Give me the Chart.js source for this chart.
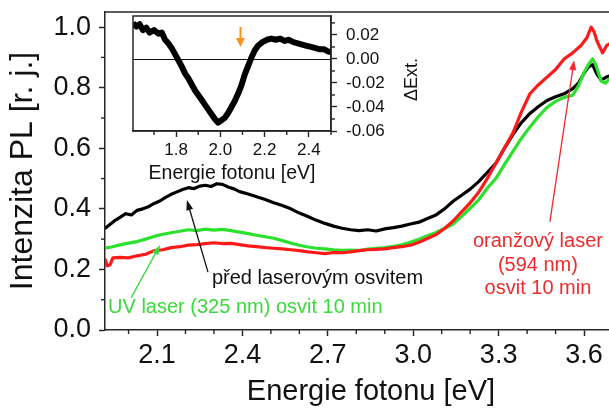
<!DOCTYPE html>
<html>
<head>
<meta charset="utf-8">
<script src="https://cdn.jsdelivr.net/npm/chart.js@4.4.1/dist/chart.umd.min.js"></script>
<style>
  html, body { margin: 0; padding: 0; background: #fff; overflow: hidden; }
  #wrap { position: relative; width: 609px; height: 417px; overflow: hidden; background: #fff; }
  #main { position: absolute; left: 0; top: 0; }
  #inset { position: absolute; left: 125px; top: 0; }
</style>
</head>
<body>
<div id="wrap">
  <canvas id="main" width="640" height="417"></canvas>
  <canvas id="inset" width="300" height="190"></canvas>
</div>
<script>
// ---- PL spectra: photon energy [eV] and PL intensity [r. j.] ----
const eBefore = [1.917,1.93,1.95,1.97,1.99,2.01,2.03,2.05,2.07,2.09,
                 2.11,2.13,2.15,2.17,2.19,2.21,2.23,2.25,2.27,2.29,
                 2.31,2.33,2.35,2.37,2.39,2.42,2.45,2.48,2.51,2.54,
                 2.57,2.60,2.63,2.66,2.69,2.72,2.75,2.78,2.81,2.84,
                 2.87,2.90,2.93,2.96,2.99,3.02,3.05,3.08,3.11,3.14,
                 3.17,3.20,3.23,3.26,3.29,3.32,3.35,3.38,3.41,3.44,
                 3.47,3.50,3.53,3.56,3.58,3.60,3.615,3.63,3.645,3.66,
                 3.68,3.70];
const plBefore = [0.335,0.345,0.36,0.372,0.384,0.38,0.395,0.40,0.407,0.418,
                  0.426,0.438,0.448,0.456,0.464,0.47,0.467,0.475,0.478,0.474,
                  0.483,0.481,0.472,0.466,0.457,0.449,0.44,0.431,0.42,0.411,
                  0.40,0.386,0.375,0.362,0.352,0.343,0.336,0.331,0.328,0.331,
                  0.327,0.334,0.338,0.343,0.35,0.356,0.368,0.38,0.40,0.425,
                  0.445,0.465,0.49,0.52,0.55,0.60,0.645,0.685,0.715,0.738,
                  0.758,0.77,0.78,0.797,0.815,0.848,0.868,0.876,0.845,0.825,
                  0.836,0.842];

const eUV = [1.917,1.94,1.97,2.00,2.03,2.06,2.09,2.12,2.15,2.18,
             2.21,2.24,2.27,2.30,2.33,2.36,2.39,2.42,2.45,2.48,
             2.51,2.54,2.57,2.60,2.63,2.66,2.69,2.72,2.75,2.78,
             2.81,2.84,2.87,2.90,2.93,2.96,2.99,3.02,3.05,3.08,
             3.11,3.14,3.17,3.20,3.23,3.26,3.29,3.32,3.35,3.38,
             3.41,3.44,3.47,3.50,3.53,3.56,3.58,3.60,3.615,3.63,
             3.64,3.65,3.66,3.675,3.69,3.70];
const plUV = [0.27,0.274,0.281,0.287,0.292,0.30,0.309,0.316,0.321,0.326,
              0.331,0.328,0.333,0.33,0.332,0.328,0.323,0.318,0.313,0.308,
              0.303,0.295,0.287,0.28,0.274,0.27,0.268,0.265,0.263,0.264,
              0.262,0.267,0.27,0.272,0.276,0.281,0.29,0.30,0.311,0.322,
              0.335,0.35,0.375,0.402,0.43,0.468,0.50,0.545,0.59,0.633,
              0.67,0.705,0.735,0.755,0.768,0.775,0.805,0.85,0.876,0.895,
              0.878,0.85,0.822,0.815,0.83,0.835];

const eOrange = [1.917,1.925,1.935,1.945,1.97,2.00,2.03,2.06,2.09,2.12,
                 2.15,2.18,2.21,2.24,2.27,2.30,2.33,2.36,2.39,2.42,
                 2.45,2.48,2.51,2.54,2.57,2.60,2.63,2.66,2.69,2.72,
                 2.75,2.78,2.81,2.84,2.87,2.90,2.93,2.96,2.99,3.02,
                 3.05,3.08,3.11,3.14,3.17,3.20,3.23,3.26,3.29,3.32,
                 3.35,3.38,3.41,3.44,3.47,3.50,3.53,3.56,3.59,3.61,
                 3.625,3.635,3.645,3.655,3.665,3.68,3.70];
const plOrange = [0.235,0.212,0.215,0.238,0.24,0.238,0.245,0.25,0.262,0.265,
                  0.272,0.275,0.28,0.282,0.285,0.288,0.285,0.286,0.282,0.278,
                  0.275,0.272,0.27,0.268,0.265,0.262,0.258,0.255,0.252,0.256,
                  0.255,0.258,0.262,0.265,0.266,0.268,0.272,0.275,0.28,0.29,
                  0.302,0.315,0.335,0.36,0.39,0.42,0.455,0.50,0.55,0.60,
                  0.65,0.72,0.78,0.81,0.835,0.86,0.895,0.915,0.94,0.965,
                  1.0,0.985,0.955,0.935,0.915,0.94,0.95];

// ---- inset: extinction difference vs photon energy ----
const eExt = [1.605,1.62,1.635,1.65,1.665,1.68,1.70,1.72,1.735,1.75,
              1.765,1.78,1.795,1.81,1.825,1.84,1.855,1.87,1.885,1.90,
              1.915,1.93,1.945,1.96,1.975,1.99,2.005,2.02,2.035,2.05,
              2.065,2.08,2.095,2.11,2.125,2.14,2.155,2.17,2.19,2.21,
              2.23,2.25,2.27,2.29,2.31,2.33,2.35,2.37,2.39,2.41,
              2.43,2.45,2.47,2.49,2.50];
const dExt = [0.030,0.027,0.029,0.024,0.026,0.022,0.024,0.021,0.022,0.016,
              0.013,0.009,0.004,-0.001,-0.006,-0.012,-0.016,-0.021,-0.026,-0.030,
              -0.034,-0.038,-0.042,-0.046,-0.050,-0.053,-0.051,-0.049,-0.045,-0.040,
              -0.035,-0.029,-0.022,-0.013,-0.006,0.001,0.007,0.011,0.014,0.016,
              0.017,0.016,0.017,0.015,0.016,0.014,0.013,0.012,0.011,0.010,
              0.009,0.008,0.008,0.006,0.006];

// tick labels
const xTickLabels = ['2.1','2.4','2.7','3.0','3.3','3.6'];
const yTickLabels = ['0.0','0.2','0.4','0.6','0.8','1.0'];
const insetXTickLabels = ['1.8','2.0','2.2','2.4'];
const insetYTickLabels = ['-0.06','-0.04','-0.02','0.00','0.02'];

const seriesNames = ['oranžový laser (594 nm) osvit 10 min',
                     'UV laser (325 nm) osvit 10 min',
                     'před laserovým osvitem'];

const FONT = "'Liberation Sans', Arial, Helvetica, sans-serif";
const AXIS = '#262626';
const RED = '#ff1a1a', GREEN = '#2ee02e', BLACK = '#000000';
Chart.defaults.font.family = FONT;
Chart.defaults.color = '#111';

const pts = (xs, ys) => xs.map((x, i) => ({x, y: ys[i]}));
const fmt = (v, d) => (Math.abs(v) < 1e-9 ? 0 : v).toFixed(d);
const inList = (list, v, d) => list.includes(fmt(v, d));

// keep the plot rectangle exactly where the layout padding puts it
function fixSize(prop, size) {
  return s => {
    s[prop] = size;
    s.paddingTop = 0; s.paddingBottom = 0; s.paddingLeft = 0; s.paddingRight = 0;
  };
}

function arrow(ctx, x0, y0, x1, y1, color, lw, headLen, headW) {
  const a = Math.atan2(y1 - y0, x1 - x0);
  const c = Math.cos(a), s = Math.sin(a);
  ctx.save();
  ctx.strokeStyle = color; ctx.fillStyle = color; ctx.lineWidth = lw;
  ctx.beginPath();
  ctx.moveTo(x0, y0);
  ctx.lineTo(x1 - headLen * 0.8 * c, y1 - headLen * 0.8 * s);
  ctx.stroke();
  ctx.beginPath();
  ctx.moveTo(x1, y1);
  ctx.lineTo(x1 - headLen * c + headW / 2 * s, y1 - headLen * s - headW / 2 * c);
  ctx.lineTo(x1 - headLen * c - headW / 2 * s, y1 - headLen * s + headW / 2 * c);
  ctx.closePath();
  ctx.fill();
  ctx.restore();
}

// short ticks for the unlabelled steps
function minorTicks(chart, spec) {
  const ctx = chart.ctx;
  ctx.save();
  ctx.strokeStyle = AXIS; ctx.lineWidth = 1.4;
  for (const id in spec) {
    const sc = chart.scales[id], o = spec[id];
    sc.ticks.forEach(t => {
      if (o.major(t.value)) return;
      const p = sc.getPixelForValue(t.value);
      ctx.beginPath();
      if (sc.isHorizontal()) { ctx.moveTo(p, sc.top); ctx.lineTo(p, sc.top + o.len); }
      else if (sc.position === 'left') { ctx.moveTo(sc.right, p); ctx.lineTo(sc.right - o.len, p); }
      else { ctx.moveTo(sc.left, p); ctx.lineTo(sc.left + o.len, p); }
      ctx.stroke();
    });
  }
  ctx.restore();
}

const isMajX = v => inList(xTickLabels, v, 1);
const isMajY = v => inList(yTickLabels, v, 1);

const mainDecor = {
  id: 'mainDecor',
  afterDraw(chart) {
    const {ctx, chartArea: ca, scales: {x, y}} = chart;
    // frame
    ctx.save();
    ctx.strokeStyle = AXIS; ctx.lineWidth = 1.5;
    ctx.beginPath(); ctx.moveTo(ca.left, ca.top); ctx.lineTo(ca.right, ca.top); ctx.stroke();
    ctx.beginPath(); ctx.moveTo(ca.right, ca.top); ctx.lineTo(ca.right, ca.bottom); ctx.stroke();
    ctx.restore();
    minorTicks(chart, {x: {major: isMajX, len: 4}, y: {major: isMajY, len: 4}});

    const X = v => x.getPixelForValue(v), Y = v => y.getPixelForValue(v);
    ctx.save();
    ctx.font = '20px ' + FONT;
    ctx.textBaseline = 'alphabetic';
    // black series label
    ctx.fillStyle = '#111'; ctx.textAlign = 'left';
    ctx.fillText(seriesNames[2], X(2.293), Y(0.152));
    arrow(ctx, X(2.279), Y(0.191), X(2.205), Y(0.429), '#111', 1.3, 10, 7);
    // UV label
    ctx.fillStyle = '#3cd83c';
    ctx.fillText(seriesNames[1], X(1.928), Y(0.056));
    arrow(ctx, X(2.009), Y(0.106), X(2.111), Y(0.281), '#3cd83c', 1.3, 10, 7);
    // orange laser label
    ctx.fillStyle = '#ee2b2b'; ctx.textAlign = 'center';
    ctx.fillText('oranžový laser', X(3.438), Y(0.274));
    ctx.fillText('(594 nm)', X(3.438), Y(0.195));
    ctx.fillText('osvit 10 min', X(3.438), Y(0.119));
    arrow(ctx, X(3.48), Y(0.357), X(3.565), Y(0.891), '#ee2b2b', 1.3, 10, 7);
    ctx.restore();
  }
};

new Chart(document.getElementById('main'), {
  type: 'line',
  data: {
    datasets: [
      {label: seriesNames[0], data: pts(eOrange, plOrange), borderColor: RED, borderWidth: 3.2},
      {label: seriesNames[1], data: pts(eUV, plUV), borderColor: GREEN, borderWidth: 3.2},
      {label: seriesNames[2], data: pts(eBefore, plBefore), borderColor: BLACK, borderWidth: 3.2}
    ]
  },
  options: {
    responsive: false, animation: false, devicePixelRatio: 1,
    parsing: false, normalized: true,
    elements: {point: {radius: 0}, line: {tension: 0, borderJoinStyle: 'round'}},
    layout: {padding: {left: 0, top: 12, right: 3, bottom: 0}, autoPadding: false},
    plugins: {legend: {display: false}, tooltip: {enabled: false}},
    scales: {
      x: {
        type: 'linear', position: 'bottom', min: 1.9173, max: 3.786,
        afterFit: fixSize('height', 87),
        ticks: {
          stepSize: 0.1, includeBounds: false, autoSkip: false, maxRotation: 0,
          padding: 3, font: {size: 27}, color: '#111',
          callback: v => isMajX(v) ? fmt(v, 1) : ''
        },
        grid: {drawOnChartArea: false, drawTicks: true, tickLength: 6, tickWidth: 1.5,
               tickColor: c => (c.tick && isMajX(c.tick.value)) ? AXIS : 'rgba(0,0,0,0)'},
        border: {display: true, color: AXIS, width: 1.5},
        title: {display: true, text: 'Energie fotonu [eV]', font: {size: 29}, color: '#111',
                padding: {top: 0, bottom: 8}}
      },
      y: {
        type: 'linear', position: 'left', min: 0, max: 1.05,
        afterFit: fixSize('width', 105),
        ticks: {
          stepSize: 0.1, includeBounds: false, autoSkip: false,
          padding: 8, font: {size: 27}, color: '#111',
          callback: v => isMajY(v) ? fmt(v, 1) : ''
        },
        grid: {drawOnChartArea: false, drawTicks: true, tickLength: 6, tickWidth: 1.5,
               tickColor: c => (c.tick && isMajY(c.tick.value)) ? AXIS : 'rgba(0,0,0,0)'},
        border: {display: true, color: AXIS, width: 1.5},
        title: {display: true, text: 'Intenzita PL [r. j.]', font: {size: 32}, color: '#111',
                padding: {top: 4, bottom: 0}}
      }
    }
  },
  plugins: [mainDecor]
});

// ---- inset ----
const isMajIX = v => inList(insetXTickLabels, v, 1);
const isMajIY = v => inList(insetYTickLabels, v, 2);

const insetDecor = {
  id: 'insetDecor',
  beforeDatasetsDraw(chart) {
    const {ctx, chartArea: ca, scales: {y}} = chart;
    const y0 = Math.round(y.getPixelForValue(0)) + 0.5;
    ctx.save();
    ctx.strokeStyle = '#111'; ctx.lineWidth = 1.2;
    ctx.beginPath(); ctx.moveTo(ca.left, y0); ctx.lineTo(ca.right, y0); ctx.stroke();
    ctx.restore();
  },
  afterDraw(chart) {
    const {ctx, chartArea: ca, scales: {x, y}} = chart;
    ctx.save();
    ctx.strokeStyle = AXIS; ctx.lineWidth = 1.5;
    ctx.strokeRect(ca.left, ca.top, ca.right - ca.left, ca.bottom - ca.top);
    ctx.restore();
    minorTicks(chart, {x: {major: isMajIX, len: 4}, y: {major: isMajIY, len: 4}});
    // marker of the laser energy
    arrow(ctx, x.getPixelForValue(2.091), y.getPixelForValue(0.0267),
          x.getPixelForValue(2.091), y.getPixelForValue(0.010), '#f39322', 2, 9, 9);
    // right axis title
    ctx.save();
    ctx.translate(ca.right + 81, (ca.top + ca.bottom) / 2 + 6);
    ctx.rotate(-Math.PI / 2);
    ctx.font = '18px ' + FONT;
    ctx.fillStyle = '#111'; ctx.textAlign = 'center'; ctx.textBaseline = 'middle';
    ctx.fillText('\u0394Ext.', 0, 0);
    ctx.restore();
  }
};

new Chart(document.getElementById('inset'), {
  type: 'line',
  data: {datasets: [{label: '\u0394Ext.', data: pts(eExt, dExt), borderColor: BLACK, borderWidth: 6}]},
  options: {
    responsive: false, animation: false, devicePixelRatio: 1,
    parsing: false, normalized: true,
    elements: {point: {radius: 0}, line: {tension: 0, borderJoinStyle: 'round'}},
    layout: {padding: {left: 8, top: 16, right: 0, bottom: 0}, autoPadding: false},
    plugins: {legend: {display: false}, tooltip: {enabled: false}},
    scales: {
      x: {
        type: 'linear', position: 'bottom', min: 1.605, max: 2.5,
        afterFit: fixSize('height', 59),
        ticks: {
          stepSize: 0.1, includeBounds: false, autoSkip: false, maxRotation: 0,
          padding: 3, font: {size: 17}, color: '#111',
          callback: v => isMajIX(v) ? fmt(v, 1) : ''
        },
        grid: {drawOnChartArea: false, drawTicks: true, tickLength: 6, tickWidth: 1.4,
               tickColor: c => (c.tick && isMajIX(c.tick.value)) ? AXIS : 'rgba(0,0,0,0)'},
        border: {display: true, color: AXIS, width: 1.5},
        title: {display: true, text: 'Energie fotonu [eV]', font: {size: 19.5}, color: '#111',
                padding: {top: 0, bottom: 5}}
      },
      y: {
        type: 'linear', position: 'right', min: -0.06, max: 0.0358,
        afterFit: fixSize('width', 94),
        ticks: {
          stepSize: 0.01, includeBounds: false, autoSkip: false,
          padding: 9, font: {size: 17}, color: '#111',
          callback: v => isMajIY(v) ? fmt(v, 2) : ''
        },
        grid: {drawOnChartArea: false, drawTicks: true, tickLength: 6, tickWidth: 1.4,
               tickColor: c => (c.tick && isMajIY(c.tick.value)) ? AXIS : 'rgba(0,0,0,0)'},
        border: {display: true, color: AXIS, width: 1.5}
      }
    }
  },
  plugins: [insetDecor]
});
</script>
</body>
</html>
